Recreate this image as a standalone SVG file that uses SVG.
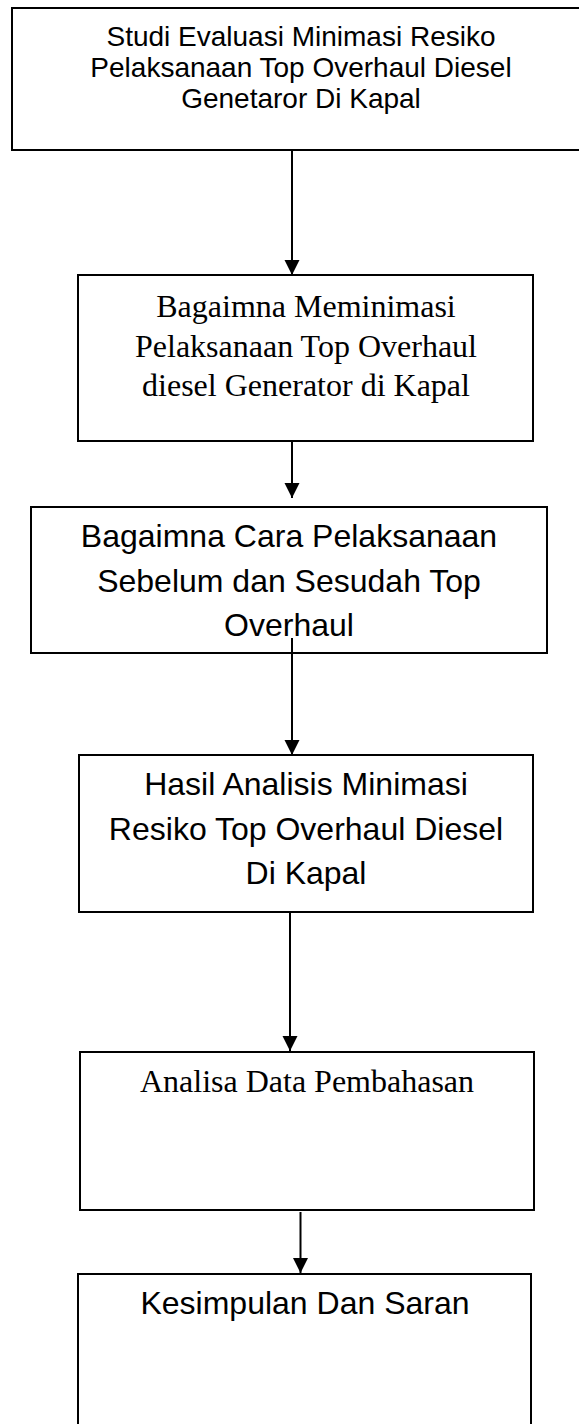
<svg xmlns="http://www.w3.org/2000/svg" width="579" height="1424" viewBox="0 0 579 1424">
<style>
.box{fill:#fff;stroke:#000;stroke-width:2}
.sans{font-family:"Liberation Sans",Arial,sans-serif;font-size:32px;fill:#000;text-anchor:middle}
.serif{font-family:"Liberation Serif","Times New Roman",serif;font-size:32px;fill:#000;text-anchor:middle}
.conn{stroke:#000;stroke-width:2;fill:none;marker-end:url(#arrow)}
</style>
<defs>
<marker id="arrow" markerUnits="userSpaceOnUse" markerWidth="16" markerHeight="16" refX="15" refY="7.5" orient="auto">
<path d="M0,0 L15,7.5 L0,15 Z" fill="#000"/>
</marker>
</defs>
<rect width="579" height="1424" fill="#fff"/>
<g id="n1">
<rect class="box" x="12" y="8" width="580" height="142"/>
<text class="sans" style="font-size:28px" x="301" y="46">Studi Evaluasi Minimasi Resiko</text>
<text class="sans" style="font-size:28px" x="301" y="77">Pelaksanaan Top Overhaul Diesel</text>
<text class="sans" style="font-size:28px" x="301" y="108">Genetaror Di Kapal</text>
</g>
<g id="n2">
<rect class="box" x="78" y="275" width="455" height="166"/>
<text class="serif" x="306" y="317">Bagaimna Meminimasi</text>
<text class="serif" x="306" y="357">Pelaksanaan Top Overhaul</text>
<text class="serif" x="306" y="396">diesel Generator di Kapal</text>
</g>
<g id="n3">
<rect class="box" x="31" y="507" width="516" height="146"/>
<text class="sans" x="289" y="547">Bagaimna Cara Pelaksanaan</text>
<text class="sans" x="289" y="592">Sebelum dan Sesudah Top</text>
<text class="sans" x="289" y="636">Overhaul</text>
</g>
<g id="n4">
<rect class="box" x="79" y="755" width="454" height="157"/>
<text class="sans" x="306" y="795">Hasil Analisis Minimasi</text>
<text class="sans" x="306" y="840">Resiko Top Overhaul Diesel</text>
<text class="sans" x="306" y="884">Di Kapal</text>
</g>
<g id="n5">
<rect class="box" x="80" y="1052" width="454" height="158"/>
<text class="serif" x="307" y="1092">Analisa Data Pembahasan</text>
</g>
<g id="n6">
<rect class="box" x="78" y="1274" width="453" height="170"/>
<text class="sans" x="305" y="1314">Kesimpulan Dan Saran</text>
</g>
<g id="connectors">
<line class="conn" x1="292" y1="150" x2="292" y2="275"/>
<line class="conn" x1="292" y1="441" x2="292" y2="498"/>
<line class="conn" x1="292" y1="638" x2="292" y2="755"/>
<line class="conn" x1="290" y1="912" x2="290" y2="1051"/>
<line class="conn" x1="300.5" y1="1212" x2="300.5" y2="1273"/>
</g>
</svg>
